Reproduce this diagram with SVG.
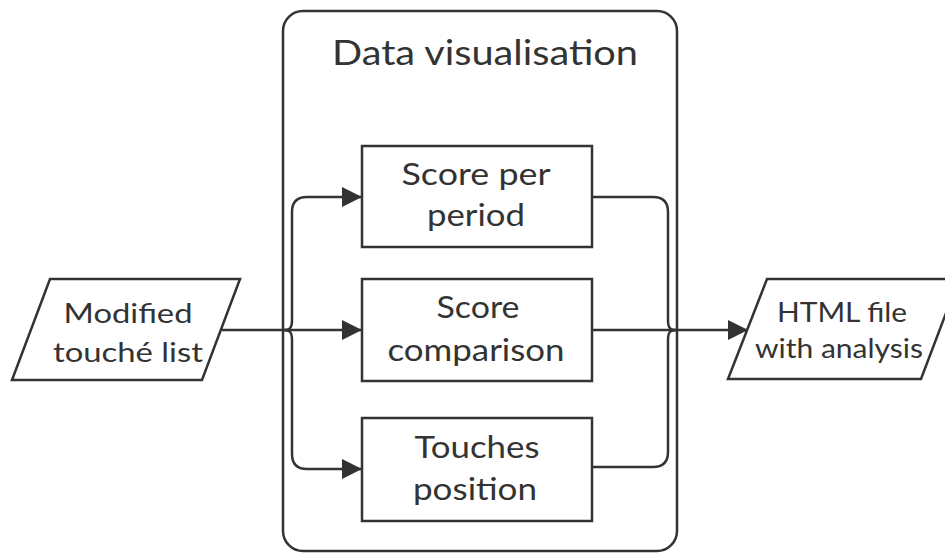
<svg xmlns="http://www.w3.org/2000/svg" width="945" height="554" viewBox="0 0 945 554">
<defs>
<style>
.shape{fill:#fff;stroke:#333;stroke-width:2.5}
.line{fill:none;stroke:#333;stroke-width:2.5}
text{font-family:Lato,"Noto Sans",sans-serif;fill:#333;text-anchor:middle}
.t{font-size:30px}
.p{font-size:27px}
.h{font-size:26px}
</style>
<marker id="arr" markerWidth="20" markerHeight="20" refX="19" refY="10" orient="auto" markerUnits="userSpaceOnUse" viewBox="0 0 20 20">
<path d="M0,0 L20,10 L0,20 z" fill="#333"/>
</marker>
</defs>
<rect width="945" height="554" fill="#fff"/>
<g id="container">
<rect class="shape" x="283" y="11" width="394" height="540" rx="20"/>
<text x="485" y="65" style="font-size:34px" textLength="306" lengthAdjust="spacingAndGlyphs">Data visualisation</text>
</g>
<g id="connectors">
<path class="line" d="M222,330 H283"/>
<path class="line" d="M283,330 C290,330 292,328 292,320 V212 Q292,197 307,197 H361" marker-end="url(#arr)"/>
<path class="line" d="M283,330 H361" marker-end="url(#arr)"/>
<path class="line" d="M283,330 C290,330 292,332 292,340 V454 Q292,469 307,469 H361" marker-end="url(#arr)"/>
<path class="line" d="M592,197 H653 Q668,197 668,212 V320 C668,328 670,330 677,330"/>
<path class="line" d="M592,330 H677"/>
<path class="line" d="M592,467 H653 Q668,467 668,452 V340 C668,332 670,330 677,330"/>
<path class="line" d="M677,330 H747" marker-end="url(#arr)"/>
</g>
<g id="input">
<path class="shape" d="M50,279 H240 L202,380 H12 Z"/>
<text class="p" x="128" y="323" textLength="129" lengthAdjust="spacingAndGlyphs">Modified</text>
<text class="p" x="128" y="362" textLength="150" lengthAdjust="spacingAndGlyphs">touché list</text>
</g>
<g id="score-per-period">
<rect class="shape" x="362" y="146" width="230" height="101"/>
<text class="t" x="476" y="185" textLength="149" lengthAdjust="spacingAndGlyphs">Score per</text>
<text class="t" x="476" y="226" textLength="98" lengthAdjust="spacingAndGlyphs">period</text>
</g>
<g id="score-comparison">
<rect class="shape" x="362" y="279" width="230" height="102"/>
<text class="t" x="478" y="318" textLength="83" lengthAdjust="spacingAndGlyphs">Score</text>
<text class="t" x="476" y="361" textLength="177" lengthAdjust="spacingAndGlyphs">comparison</text>
</g>
<g id="touches-position">
<rect class="shape" x="362" y="418" width="230" height="103"/>
<text class="t" x="477" y="458" textLength="125" lengthAdjust="spacingAndGlyphs">Touches</text>
<text class="t" x="475" y="500" textLength="124" lengthAdjust="spacingAndGlyphs">position</text>
</g>
<g id="output">
<path class="shape" d="M767,279 H959 L921,379 H728 Z"/>
<text class="h" x="842" y="322" textLength="130" lengthAdjust="spacingAndGlyphs">HTML file</text>
<text class="h" x="839" y="358" textLength="168" lengthAdjust="spacingAndGlyphs">with analysis</text>
</g>
</svg>
